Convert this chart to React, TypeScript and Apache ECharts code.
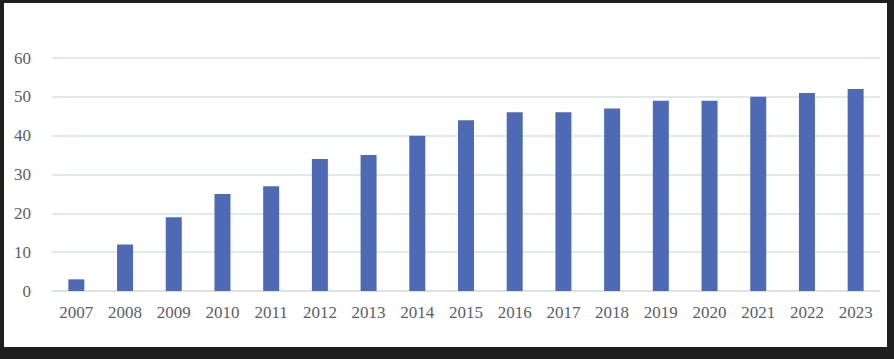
import React, { useEffect, useRef } from "react";
import * as echarts from "echarts";

const years = ["2007","2008","2009","2010","2011","2012","2013","2014","2015","2016","2017","2018","2019","2020","2021","2022","2023"];
const values = [3, 12, 19, 25, 27, 34, 35, 40, 44, 46, 46, 47, 49, 49, 50, 51, 52];

export default function App() {
  const ref = useRef<HTMLDivElement>(null);
  useEffect(() => {
    document.body.style.margin = "0";
    const chart = echarts.init(ref.current!, null, { renderer: "svg" });
    chart.setOption({
      animation: false,
      grid: { left: 52, right: 14, top: 58, bottom: 68 },
      xAxis: {
        type: "category",
        data: years,
        axisTick: { show: false },
        axisLine: { lineStyle: { color: "#d8e2e2", width: 1.5 } },
        axisLabel: { color: "#5a6068", fontFamily: "Liberation Serif", fontSize: 17, margin: 13 },
      },
      yAxis: {
        type: "value",
        min: 0,
        max: 60,
        interval: 10,
        axisLine: { show: false },
        axisTick: { show: false },
        splitLine: { lineStyle: { color: "#d8e2e2", width: 1.5 } },
        axisLabel: { color: "#5a6068", fontFamily: "Liberation Serif", fontSize: 17, margin: 21 },
      },
      series: [
        {
          type: "bar",
          data: values,
          barWidth: 16,
          itemStyle: { color: "#4e6ab5" },
        },
      ],
    });
    return () => chart.dispose();
  }, []);
  return (
    <div style={{ position: "absolute", left: 0, top: 0, width: 894, height: 359, background: "#1f1f1f" }}>
      <div style={{ position: "absolute", left: 4, top: 3, width: 883, height: 344, background: "#ffffff" }} />
      <div ref={ref} style={{ position: "absolute", left: 0, top: 0, width: 894, height: 359 }} />
    </div>
  );
}
